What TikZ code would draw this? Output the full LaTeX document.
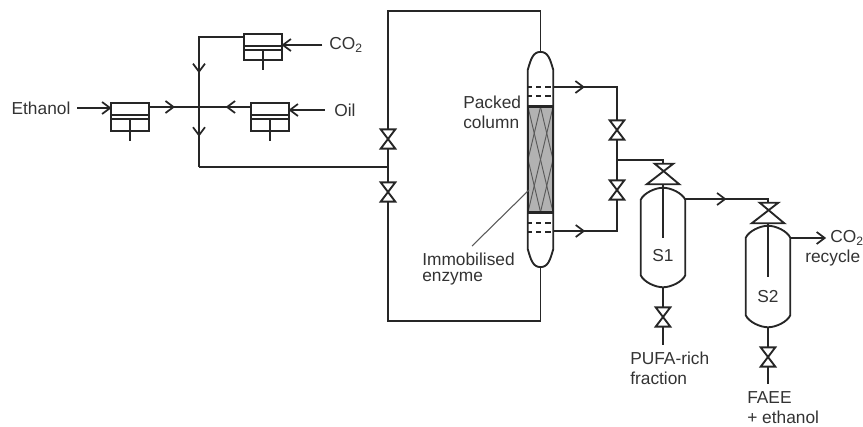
\documentclass[tikz,border=0pt]{standalone}
\usepackage{fontspec}
\setmainfont{Liberation Sans}
\usetikzlibrary{calc,decorations.markings}
\tikzstyle{pipe} = [line width=1.4pt, black!85]
\tikzstyle{pump} = [rectangle, draw=black!85, line width=1.4pt, minimum width=28.5pt, inner sep=0pt]
\tikzstyle{bow} = [rectangle, inner sep=0pt, minimum width=10.5pt, minimum height=14pt]
\tikzstyle{bigbow} = [rectangle, inner sep=0pt, minimum width=24pt, minimum height=15pt]
\tikzstyle{vessel} = [rectangle, inner sep=0pt]
\tikzstyle{txt} = [inner sep=0pt, text=black!80, font=\fontsize{13}{15}\selectfont]
% a small open arrow along a line
\tikzset{midtip/.style={decoration={markings, mark=at position #1 with {\draw[line width=1.3pt, black!85] (-8,-6) -- (0,0) -- (-8,6);}}, postaction={decorate}}}
\tikzset{endtip/.style={midtip=1}}
\newcommand{\valve}[2]{%
  \node (#1) at (#2) [bow] {};
  \draw [pipe] (#1.north west) -- (#1.south east) -- (#1.south west) -- (#1.north east) -- cycle;}
\newcommand{\bigvalve}[2]{%
  \node (#1) at (#2) [bigbow] {};
  \draw [pipe] ([shift={(8,0)}]#1.north west) -- (#1.south east) -- (#1.south west) -- ([shift={(-6,0)}]#1.north east) -- cycle;}
\newcommand{\pumpunit}[3]{%
  \node (#1) at (#2) [pump, minimum height=#3] {};
  \draw [pipe] ([yshift=-9.8pt]#1.north west) -- ([yshift=-9.8pt]#1.north east);
  \draw [pipe] ([yshift=-12.8pt]#1.north west) -- ([yshift=-12.8pt]#1.north east);}
\newcommand{\tank}[5]{%
  \node (#1) at (#2) [vessel, minimum width=#3, minimum height=#4] {};
  \draw [pipe] (#1.north) .. controls ([shift={(8,0)}]#1.north) and ([shift={(-3,#5*0.45)}]#1.north east) .. ([shift={(0,#5)}]#1.north east)
    -- ([shift={(0,-#5)}]#1.south east) .. controls ([shift={(-3,-#5*0.45)}]#1.south east) and ([shift={(8,0)}]#1.south) .. (#1.south)
    .. controls ([shift={(-8,0)}]#1.south) and ([shift={(3,-#5*0.45)}]#1.south west) .. ([shift={(0,-#5)}]#1.south west)
    -- ([shift={(0,#5)}]#1.north west) .. controls ([shift={(3,#5*0.45)}]#1.north west) and ([shift={(-8,0)}]#1.north) .. cycle;}
\begin{document}
\begin{tikzpicture}[x=0.75pt, y=-0.75pt]
    \useasboundingbox (0,0) rectangle (863,426);

    % Pumps
    \pumpunit{pumpco}{263,47}{19.5pt}
    \pumpunit{pumpeth}{130,117}{21pt}
    \pumpunit{pumpoil}{270,117}{21pt}
    \coordinate (rodco) at (263,70);
    \coordinate (rodeth) at (130,141);
    \coordinate (rodoil) at (270,141);
    \draw [pipe] ([yshift=-12.8pt]pumpco.north) -- (rodco);
    \draw [pipe] ([yshift=-12.8pt]pumpeth.north) -- (rodeth);
    \draw [pipe] ([yshift=-12.8pt]pumpoil.north) -- (rodoil);

    % Feed labels
    \node (eth) at (41,108) [txt] {Ethanol};
    \node (oil) at (345,110) [txt] {Oil};
    \node (co) at (346,45) [txt] {CO\textsubscript{2}};
    \draw [pipe, endtip] ([xshift=5pt]eth.east) -- (pumpeth.west |- eth.east);
    \draw [pipe, endtip] ([xshift=-7pt]oil.west) -- (pumpoil.east |- oil.west);
    \draw [pipe, endtip] ([xshift=-5pt]co.west) -- (pumpco.east |- co.west);

    % Mixing lines
    \coordinate (cross) at (199,107);
    \coordinate (mixend) at (199,167);
    \coordinate (cotop) at (199,37);
    \draw [pipe, midtip=0.48] (pumpeth.east |- cross) -- (cross);
    \draw [pipe, midtip=0.45] (pumpoil.west |- cross) -- (cross);
    \draw [pipe, midtip=0.69] (pumpco.west |- cotop) -- (cotop) -- (cross);
    \draw [pipe, midtip=0.47] (cross) -- (mixend);

    % Column
    \tank{column}{540.5,159.5}{18.75pt}{161pt}{18}
    \node (packing) at (540.5,159.5) [rectangle, fill=black!30, minimum width=18.75pt, minimum height=78.75pt, inner sep=0pt] {};
    \foreach \x in {528,540.5} {
      \foreach \y in {107,159.5} {
        \draw [black!65, line width=0.7pt] (\x,\y) -- (\x+12.5,\y+52.5);
        \draw [black!65, line width=0.7pt] (\x+12.5,\y) -- (\x,\y+52.5);
      }
    }
    \draw [pipe] (packing.north west) -- (packing.south west);
    \draw [pipe] (packing.north east) -- (packing.south east);
    \draw [line width=2pt, black!85] (packing.north west) -- (packing.north east);
    \draw [line width=2pt, black!85] (packing.south west) -- (packing.south east);
    \foreach \y in {87,96,223,232} {
      \draw [pipe, dash pattern=on 4pt off 3pt, dash phase=1pt] (528,\y) -- (553,\y);
    }
    \node (packed) at (463,102) [txt, anchor=west] {Packed};
    \node (col) at (463,122) [txt, anchor=west] {column};
    \node (immob) at (422,259) [txt, anchor=west] {Immobilised};
    \node (enz) at (422,279) [txt, anchor=west] {enzyme};
    \coordinate (leadstart) at (472,246);
    \coordinate (leadend) at (529,190);
    \draw [black!65, line width=0.8pt] (leadstart) -- (leadend);

    % Recycle loop
    \valve{vloopa}{388,139}
    \valve{vloopb}{388,192}
    \coordinate (feed) at (388,167);
    \draw [pipe] (mixend) -- (feed);
    \draw [pipe] (vloopa.north) -- (388,11) -- (540.5,11) -- (column.north);
    \draw [pipe] (vloopb.south) -- (388,321) -- (540.5,321) -- (column.south);
    \draw [pipe] (vloopa.south) -- (vloopb.north);

    % Column outlets
    \valve{vouta}{617,130}
    \valve{voutb}{617,190}
    \coordinate (joint) at (617,160);
    \draw [pipe, midtip=0.31] (column.east |- 0,87) -- (617,87) -- (vouta.north);
    \draw [pipe, midtip=0.32] (column.east |- 0,231) -- (617,231) -- (voutb.south);
    \draw [pipe] (vouta.south) -- (voutb.north);

    % Separators
    \tank{sone}{663,237.5}{33pt}{74.25pt}{12}
    \tank{stwo}{768,276.5}{33pt}{75.75pt}{12}
    \bigvalve{vsone}{663,174}
    \bigvalve{vstwo}{768,213}
    \draw [pipe] (joint) -- (663,160) -- (vsone.north);
    \draw [pipe] (vsone.south) -- (sone.center);
    \draw [pipe] (vstwo.south) -- (stwo.center);
    \node (sonetxt) at (663,256) [txt] {S1};
    \node (stwotxt) at (768,297) [txt] {S2};
    \draw [pipe, midtip=0.46] (sone.east |- 0,199) -- (768,199) -- (vstwo.north);

    % Products
    \valve{vbota}{663,317}
    \valve{vbotb}{768,357}
    \coordinate (pufaend) at (663,345);
    \coordinate (faeeend) at (768,384);
    \draw [pipe] (sone.south) -- (vbota.north);
    \draw [pipe] (vbota.south) -- (pufaend);
    \draw [pipe] (stwo.south) -- (vbotb.north);
    \draw [pipe] (vbotb.south) -- (faeeend);
    \node (pufa) at (630,358) [txt, anchor=west] {PUFA-rich};
    \node (frac) at (630,378) [txt, anchor=west] {fraction};
    \node (faee) at (747,398) [txt, anchor=west] {FAEE};
    \node (plus) at (747,417) [txt, anchor=west] {+ ethanol};
    \node (coout) at (830,238) [txt, anchor=west] {CO\textsubscript{2}};
    \node (recy) at (805,258) [txt, anchor=west] {recycle};
    \draw [pipe, endtip] (stwo.east |- coout) -- ([xshift=-4pt]coout.west);
\end{tikzpicture}
\end{document}
